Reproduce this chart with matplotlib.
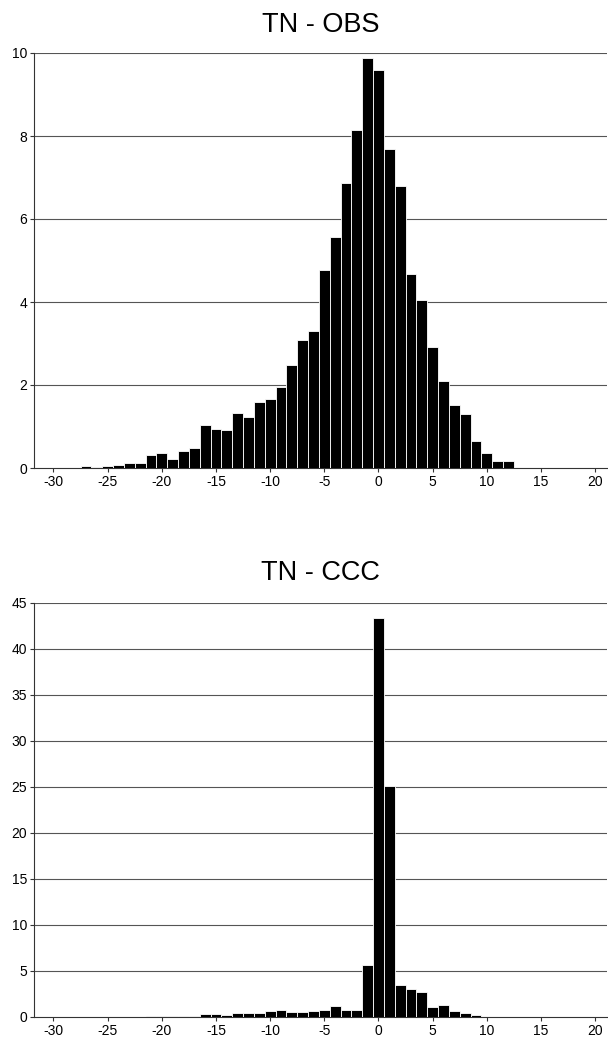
import matplotlib
matplotlib.use("Agg")
import matplotlib.pyplot as plt
import numpy as np

plt.rcParams['font.family'] = ['Liberation Sans', 'DejaVu Sans']

# Bin centres (integer degrees) and frequency (%) for each panel
bins_obs = list(range(-30, 21))
freq_obs = [0.0, 0.0, 0.0, 0.06, 0.02, 0.05, 0.07, 0.13, 0.13, 0.31, 0.35,
            0.22, 0.40, 0.48, 1.04, 0.94, 0.91, 1.33, 1.22, 1.59, 1.66,
            1.94, 2.49, 3.09, 3.31, 4.78, 5.56, 6.86, 8.15, 9.87, 9.58,
            7.68, 6.79, 4.67, 4.04, 2.92, 2.10, 1.52, 1.29, 0.64, 0.35,
            0.16, 0.18, 0.0, 0.0, 0.0, 0.0, 0.0, 0.0, 0.0, 0.0]

bins_ccc = list(range(-30, 21))
freq_ccc = [0.0, 0.0, 0.0, 0.0, 0.0, 0.0, 0.0, 0.0, 0.0, 0.12, 0.10,
            0.08, 0.12, 0.08, 0.34, 0.30, 0.18, 0.40, 0.42, 0.44, 0.66,
            0.78, 0.56, 0.58, 0.63, 0.80, 1.18, 0.72, 0.75, 5.70, 43.4,
            25.1, 3.45, 3.08, 2.68, 1.09, 1.34, 0.69, 0.47, 0.18, 0.03,
            0.03, 0.03, 0.03, 0.0, 0.0, 0.0, 0.0, 0.0, 0.0, 0.0]

titles = ["TN - OBS", "TN - CCC"]
xticks = [-30, -25, -20, -15, -10, -5, 0, 5, 10, 15, 20]
yticks_obs = [0, 2, 4, 6, 8, 10]
yticks_ccc = [0, 5, 10, 15, 20, 25, 30, 35, 40, 45]

W, H = 608, 1042
fig = plt.figure(figsize=(W / 100, H / 100), dpi=100)

def add_panel(rect_px, bins, freq, yticks, title, title_pad):
    l, t, r, b = rect_px
    ax = fig.add_axes([l / W, 1 - b / H, (r - l) / W, (b - t) / H])
    ax.bar(bins, freq, width=1.0, color='black', edgecolor='white',
           linewidth=0.6, zorder=3)
    ax.set_xlim(-31.8, 21.1)
    ax.set_ylim(0, yticks[-1])
    ax.set_xticks(xticks)
    ax.set_yticks(yticks)
    ax.set_xticklabels([str(v) for v in xticks])
    ax.set_yticklabels([str(v) for v in yticks])
    for v in yticks[1:]:
        ax.axhline(v, color='#555555', linewidth=0.8, zorder=1)
    for s in ['top', 'right']:
        ax.spines[s].set_visible(False)
    ax.spines['left'].set_linewidth(0.8)
    ax.spines['left'].set_color('#333333')
    ax.spines['bottom'].set_linewidth(0.8)
    ax.spines['bottom'].set_color('#333333')
    ax.tick_params(axis='both', length=3, width=0.8, labelsize=10,
                   colors='#333333', labelcolor='black')
    ax.tick_params(axis='x', pad=2)
    ax.tick_params(axis='y', pad=2)
    ax.set_title(title, fontsize=19.5, pad=title_pad)
    return ax

add_panel((34, 53, 607, 468), bins_obs, freq_obs, yticks_obs, titles[0], 15)
add_panel((34, 603, 607, 1017), bins_ccc, freq_ccc, yticks_ccc, titles[1], 16.5)

fig.savefig("out.png", dpi=100, facecolor='white')
